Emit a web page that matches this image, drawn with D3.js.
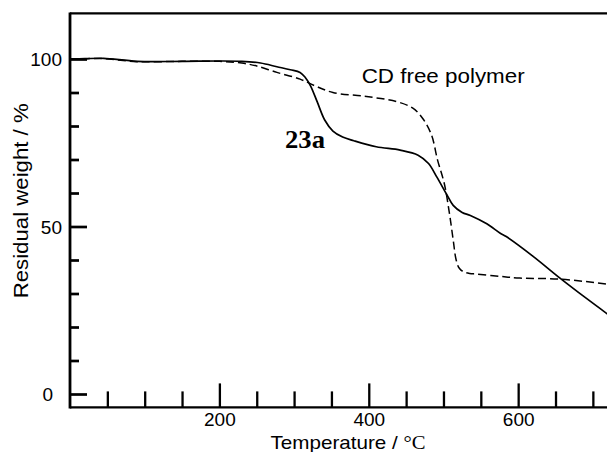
<!DOCTYPE html>
<html>
<head>
<meta charset="utf-8">
<script src="https://cdn.jsdelivr.net/npm/d3@7"></script>
<style>
  html, body { margin: 0; padding: 0; background: #fff; }
  svg { display: block; }
  text { fill: #000; }
</style>
</head>
<body>
<svg id="chart" width="607" height="452"></svg>
<script>
// ---- data ----
const temp23a   = [0, 20, 45, 90, 150, 200, 230, 255, 277, 295, 308, 315, 322, 331, 341, 352, 365, 380, 410, 442, 466, 480, 491, 505, 513, 525, 536, 558, 576, 584, 620, 656, 691, 720];
const weight23a = [100, 100.1, 100.2, 99.3, 99.3, 99.4, 99.3, 98.8, 97.7, 96.8, 96.0, 94.5, 92.0, 87.2, 81.8, 78.5, 76.7, 75.6, 73.8, 72.8, 71.3, 68.8, 64.8, 59.3, 56.3, 54.2, 53.3, 50.8, 48.0, 47.0, 41.1, 34.6, 28.6, 23.8];

const tempFree   = [0, 20, 45, 90, 150, 200, 230, 250, 277, 308, 328, 352, 397, 437, 459, 472, 484, 492, 501, 508, 513, 517, 521, 526, 535, 544, 576, 602, 656, 720];
const weightFree = [100, 100.1, 100.1, 99.2, 99.3, 99.3, 98.8, 97.9, 96.0, 94.0, 92.0, 90.0, 88.8, 87.3, 85.3, 82.3, 77.3, 69.9, 62.9, 53.9, 46.0, 40.0, 37.6, 36.6, 36.0, 35.8, 35.1, 34.6, 34.3, 32.8];

const xMinorTicks = [50, 100, 150, 250, 300, 350, 450, 500, 550, 650, 700];
const xMajorTicks = [200, 400, 600];
const yMinorTicks = [10, 20, 30, 40, 60, 70, 80, 90];
const yMajorTicks = [0, 50, 100];

const xTitle = "Temperature / ";
const xTitleUnit = "°C";
const yTitle = "Residual weight / %";
const label23a = "23a";
const labelFree = "CD free polymer";

// ---- scales ----
const svg = d3.select("#chart");
const x = d3.scaleLinear().domain([0, 720]).range([70, 607.8]);
const y = d3.scaleLinear().domain([0, 100]).range([394, 59]);

const FONT = "'Liberation Sans', Arial, Helvetica, sans-serif";
const SERIF = "'Liberation Serif', 'Times New Roman', serif";

// ---- frame ----
const yTop = y(113.6), yBot = y(-4.0);
svg.append("line").attr("x1", x(0)).attr("x2", 607).attr("y1", yTop).attr("y2", yTop)
  .attr("stroke", "#000").attr("stroke-width", 2.2);
svg.append("line").attr("x1", x(0)).attr("x2", 607).attr("y1", yBot).attr("y2", yBot)
  .attr("stroke", "#000").attr("stroke-width", 2.2);
svg.append("line").attr("x1", x(0)).attr("x2", x(0)).attr("y1", yTop - 1).attr("y2", yBot + 1)
  .attr("stroke", "#000").attr("stroke-width", 2.8);

// ---- x axis (ticks pointing up, from the bottom line) ----
const gxMinor = svg.append("g").attr("transform", `translate(0,${yBot})`)
  .call(d3.axisBottom(x).tickValues(xMinorTicks).tickSize(-16).tickFormat(""));
const gxMajor = svg.append("g").attr("transform", `translate(0,${yBot})`)
  .call(d3.axisBottom(x).tickValues(xMajorTicks).tickSize(-24).tickPadding(0).tickFormat(d3.format("d")));
[gxMinor, gxMajor].forEach(g => {
  g.select(".domain").remove();
  g.selectAll(".tick line").attr("stroke", "#000").attr("stroke-width", 2.3);
});
gxMajor.selectAll(".tick text")
  .attr("y", 19).attr("dy", 0)
  .attr("font-family", FONT).attr("font-size", 19).attr("fill", "#000");

// ---- y axis (ticks pointing right) ----
const gyMinor = svg.append("g").attr("transform", `translate(${x(0)},0)`)
  .call(d3.axisLeft(y).tickValues(yMinorTicks).tickSize(-9).tickFormat(""));
const gyMajor = svg.append("g").attr("transform", `translate(${x(0)},0)`)
  .call(d3.axisLeft(y).tickValues(yMajorTicks).tickSize(-17).tickPadding(8).tickFormat(d3.format("d")));
[gyMinor, gyMajor].forEach(g => {
  g.select(".domain").remove();
  g.selectAll(".tick line").attr("stroke", "#000").attr("stroke-width", 2.7);
});
gyMajor.selectAll(".tick text")
  .attr("font-family", FONT).attr("font-size", 19).attr("fill", "#000")
  .attr("dy", "0.35em")
  .attr("x", d => d === 0 ? -17 : -8);

// ---- axis titles ----
const xt = svg.append("text")
  .attr("x", 348).attr("y", 448.5).attr("text-anchor", "middle")
  .attr("font-family", FONT).attr("font-size", 19)
  .attr("textLength", 155).attr("lengthAdjust", "spacingAndGlyphs");
xt.append("tspan").text(xTitle);
xt.append("tspan").attr("font-family", SERIF).text(xTitleUnit);

svg.append("text")
  .attr("transform", `translate(27.5,${200.8}) rotate(-90)`)
  .attr("text-anchor", "middle")
  .attr("font-family", FONT).attr("font-size", 19.5)
  .attr("textLength", 195).attr("lengthAdjust", "spacingAndGlyphs")
  .text(yTitle);

// ---- curves ----
const line = d3.line().x(d => x(d[0])).y(d => y(d[1])).curve(d3.curveCatmullRom.alpha(0.5));
const data23a = temp23a.map((t, i) => [t, weight23a[i]]);
const dataFree = tempFree.map((t, i) => [t, weightFree[i]]);

svg.append("clipPath").attr("id", "plotclip").append("rect")
  .attr("x", x(0)).attr("y", yTop).attr("width", 607 - x(0)).attr("height", yBot - yTop);

svg.append("path").datum(dataFree)
  .attr("clip-path", "url(#plotclip)")
  .attr("d", line).attr("fill", "none").attr("stroke", "#000")
  .attr("stroke-width", 1.5).attr("stroke-dasharray", "8,4");
svg.append("path").datum(data23a)
  .attr("clip-path", "url(#plotclip)")
  .attr("d", line).attr("fill", "none").attr("stroke", "#000")
  .attr("stroke-width", 1.7);

// ---- curve labels ----
svg.append("text")
  .attr("x", 361.7).attr("y", 83.3)
  .attr("font-family", FONT).attr("font-size", 20.5)
  .attr("textLength", 163).attr("lengthAdjust", "spacingAndGlyphs")
  .text(labelFree);
svg.append("text")
  .attr("x", 285).attr("y", 148.3)
  .attr("font-family", SERIF).attr("font-weight", "bold").attr("font-size", 25)
  .attr("textLength", 40).attr("lengthAdjust", "spacingAndGlyphs")
  .text(label23a);
</script>
</body>
</html>
